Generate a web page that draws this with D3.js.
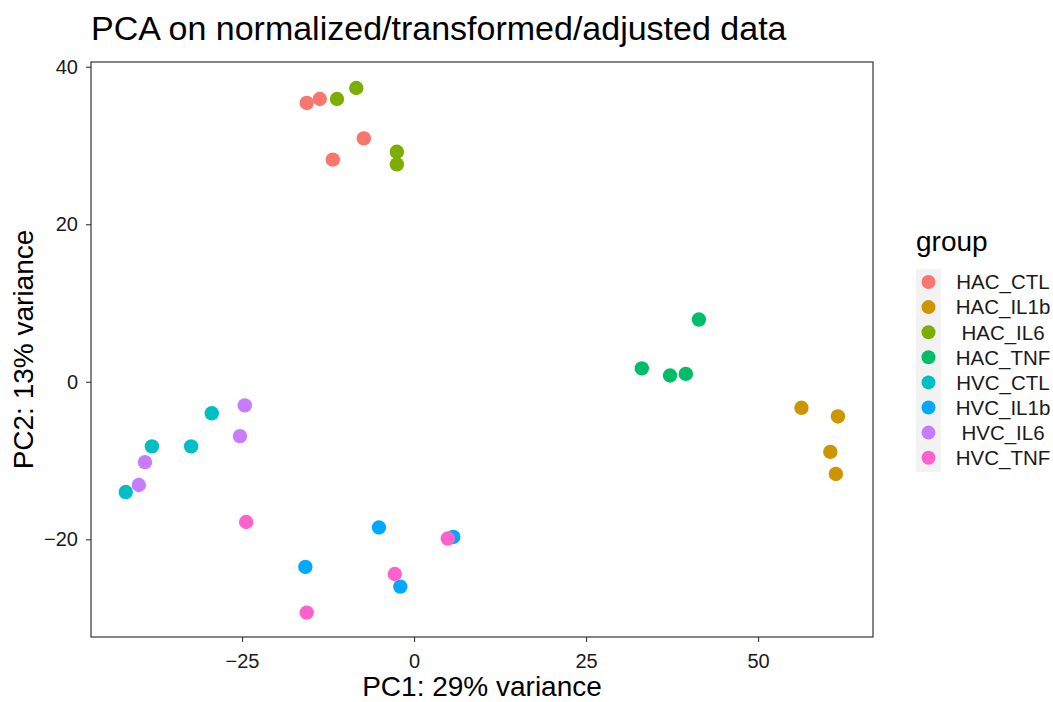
<!DOCTYPE html>
<html>
<head>
<meta charset="utf-8">
<script src="https://cdn.jsdelivr.net/npm/d3@7"></script>
<style>
  body { margin: 0; background: #fff; }
  text { font-family: "Liberation Sans", Arial, sans-serif; }
</style>
</head>
<body>
<svg id="chart" width="1053" height="702"></svg>
<script>
// groups and their colours (ggplot hue palette)
const groups = ['HAC_CTL', 'HAC_IL1b', 'HAC_IL6', 'HAC_TNF', 'HVC_CTL', 'HVC_IL1b', 'HVC_IL6', 'HVC_TNF']
const colors = ['#F8766D', '#CD9600', '#7CAE00', '#00BE67', '#00BFC4', '#00A9FF', '#C77CFF', '#FF61CC']

// PC1 / PC2 per sample
const HAC_CTL = [[-15.6, 35.4], [-13.7, 35.9], [-11.8, 28.2], [-7.3, 30.9]]
const HAC_IL1b = [[56.3, -3.3], [61.6, -4.4], [60.5, -8.9], [61.3, -11.7]]
const HAC_IL6 = [[-11.2, 35.9], [-8.4, 37.3], [-2.5, 29.2], [-2.5, 27.6]]
const HAC_TNF = [[33.1, 1.7], [37.2, 0.8], [39.5, 1.0], [41.4, 7.9]]
const HVC_CTL = [[-41.9, -14.0], [-38.1, -8.2], [-32.4, -8.2], [-29.4, -4.0]]
const HVC_IL1b = [[-5.1, -18.5], [5.7, -19.7], [-15.8, -23.5], [-2.0, -26.0]]
const HVC_IL6 = [[-24.6, -3.0], [-25.3, -6.9], [-39.1, -10.2], [-40.0, -13.1]]
const HVC_TNF = [[4.9, -19.9], [-2.8, -24.4], [-15.6, -29.3], [-24.4, -17.8]]

const xTicks = [-25, 0, 25, 50]
const yTicks = [-20, 0, 20, 40]

const series = [HAC_CTL, HAC_IL1b, HAC_IL6, HAC_TNF, HVC_CTL, HVC_IL1b, HVC_IL6, HVC_TNF]
let points = []
series.forEach(function (s, i) {
  s.forEach(function (p) { points.push({ group: groups[i], x: p[0], y: p[1] }) })
})

const svg = d3.select('#chart')
const panel = { left: 91, right: 873, top: 62, bottom: 637 }

let x = d3.scaleLinear().domain([-46.95, 66.7]).range([panel.left, panel.right])
let y = d3.scaleLinear().domain([-32.4, 40.6]).range([panel.bottom, panel.top])
let color = d3.scaleOrdinal().domain(groups).range(colors)

// title
svg.append('text')
  .attr('x', panel.left).attr('y', 40)
  .attr('font-size', 34)
  .attr('fill', '#000')
  .text('PCA on normalized/transformed/adjusted data')

// axes
let xAxis = svg.append('g')
  .attr('transform', 'translate(0,' + panel.bottom + ')')
  .call(d3.axisBottom(x).tickValues(xTicks).tickSize(5).tickPadding(3).tickFormat(d3.format('d')))
let yAxis = svg.append('g')
  .attr('transform', 'translate(' + panel.left + ',0)')
  .call(d3.axisLeft(y).tickValues(yTicks).tickSize(5).tickPadding(8).tickFormat(d3.format('d')))

;[xAxis, yAxis].forEach(function (a) {
  a.select('.domain').remove()
  a.selectAll('.tick line').attr('stroke', '#333').attr('stroke-width', 1.1)
  a.selectAll('.tick text')
    .attr('font-size', 20)
    .attr('fill', '#1a1a1a')
    .attr('font-family', '"Liberation Sans", Arial, sans-serif')
})
xAxis.selectAll('.tick text').attr('dy', '1.15em')

// points
svg.append('g').selectAll('circle')
  .data(points)
  .enter().append('circle')
  .attr('cx', function (d) { return x(d.x) })
  .attr('cy', function (d) { return y(d.y) })
  .attr('r', 7.2)
  .attr('fill', function (d) { return color(d.group) })

// panel border
svg.append('rect')
  .attr('x', panel.left).attr('y', panel.top)
  .attr('width', panel.right - panel.left).attr('height', panel.bottom - panel.top)
  .attr('fill', 'none')
  .attr('stroke', '#333')
  .attr('stroke-width', 1.2)

// axis titles
svg.append('text')
  .attr('x', (panel.left + panel.right) / 2).attr('y', 696)
  .attr('text-anchor', 'middle')
  .attr('font-size', 28)
  .text('PC1: 29% variance')
svg.append('text')
  .attr('transform', 'translate(33,' + (panel.top + panel.bottom) / 2 + ') rotate(-90)')
  .attr('text-anchor', 'middle')
  .attr('font-size', 28)
  .text('PC2: 13% variance')

// legend
let legend = svg.append('g')
legend.append('text')
  .attr('x', 916).attr('y', 251)
  .attr('font-size', 28)
  .text('group')
legend.append('rect')
  .attr('x', 916).attr('y', 269)
  .attr('width', 25).attr('height', 203)
  .attr('fill', '#f2f2f2')
let item = legend.selectAll('g.item')
  .data(groups)
  .enter().append('g')
  .attr('class', 'item')
  .attr('transform', function (d, i) { return 'translate(0,' + (282 + i * 25.1) + ')' })
item.append('circle')
  .attr('cx', 928.5).attr('cy', 0).attr('r', 7)
  .attr('fill', function (d) { return color(d) })
item.append('text')
  .attr('x', 1003).attr('y', 0).attr('dy', '0.36em')
  .attr('text-anchor', 'middle')
  .attr('font-size', 20.5)
  .attr('fill', '#1a1a1a')
  .text(function (d) { return d })
</script>
</body>
</html>
